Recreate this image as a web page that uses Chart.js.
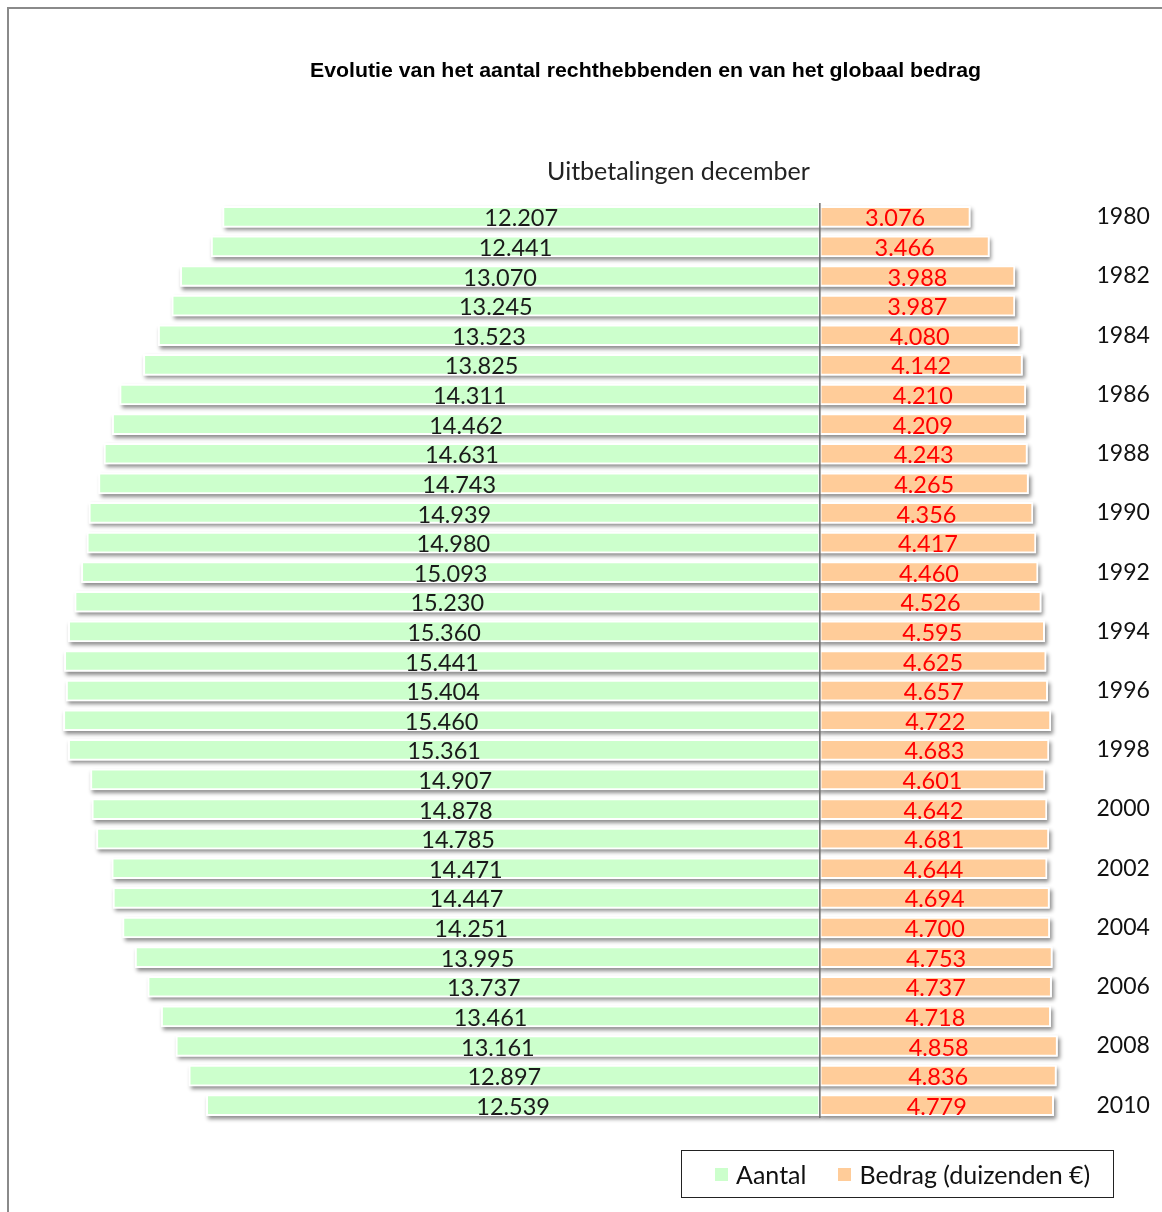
<!DOCTYPE html>
<html lang="nl">
<head>
<meta charset="utf-8">
<title>Evolutie van het aantal rechthebbenden en van het globaal bedrag</title>
<script src="https://cdn.jsdelivr.net/npm/chart.js@4/dist/chart.umd.min.js"></script>
<style>
  html, body { margin: 0; padding: 0; background: #fff; overflow: hidden; }
  body { width: 1162px; height: 1212px; position: relative; }
  #frame { position: absolute; left: 7px; top: 7px; width: 1200px; height: 1230px; border: 2px solid #8a8a8a; box-sizing: border-box; }
  #wrap { position: absolute; left: 0; top: 0; width: 1162px; height: 1212px; }
  #title { position: absolute; top: 59px; left: 310px; white-space: nowrap; font: bold 20px "Liberation Sans", Arial, sans-serif; color: #000; transform-origin: left center; }
  #subtitle { position: absolute; top: 155px; left: 547px; white-space: nowrap; font: 25px Lato, "Open Sans", sans-serif; color: #222; }
  #legend { position: absolute; left: 681px; top: 1150px; width: 433px; height: 48px; border: 1px solid #222; box-sizing: border-box; display: flex; align-items: center; font: 25px Lato, "Open Sans", sans-serif; color: #111; }
  .item { display: flex; align-items: center; }
  .sw { width: 13px; height: 13px; display: inline-block; margin-right: 8px; }
</style>
</head>
<body>
<div id="frame"></div>
<div id="wrap"><canvas id="c" width="1162" height="1212"></canvas></div>
<div id="title">Evolutie van het aantal rechthebbenden en van het globaal bedrag</div>
<div id="subtitle">Uitbetalingen december</div>
<div id="legend"></div>
<script>
// Years of the December payments
const years = ['1980','1981','1982','1983','1984','1985','1986','1987','1988','1989','1990',
  '1991','1992','1993','1994','1995','1996','1997','1998','1999','2000',
  '2001','2002','2003','2004','2005','2006','2007','2008','2009','2010'];

// Number of beneficiaries
const aantal = [12207,12441,13070,13245,13523,13825,14311,14462,14631,14743,14939,
  14980,15093,15230,15360,15441,15404,15460,15361,14907,14878,
  14785,14471,14447,14251,13995,13737,13461,13161,12897,12539];

// Total amount (thousands of euro)
const bedrag = [3076,3466,3988,3987,4080,4142,4210,4209,4243,4265,4356,
  4417,4460,4526,4595,4625,4657,4722,4683,4601,4642,
  4681,4644,4694,4700,4753,4737,4718,4858,4836,4779];

const seriesNames = ['Aantal', 'Bedrag (duizenden €)'];
const seriesColors = ['#ccffcc', '#ffcc99'];
const labelColors = ['#1a1a1a', '#ff0000'];

const LABEL_FONT = 'Lato, "Open Sans", sans-serif';

function fmt(v) {
  return String(Math.abs(v)).replace(/\B(?=(\d{3})+(?!\d))/g, '.');
}

// Soft drop shadow under every bar
const barShadow = {
  id: 'barShadow',
  beforeDatasetsDraw(chart) {
    const ctx = chart.ctx;
    ctx.save();
    ctx.shadowColor = 'rgba(0,0,0,0.45)';
    ctx.shadowBlur = 4;
    ctx.shadowOffsetX = 2;
    ctx.shadowOffsetY = 3;
    ctx.fillStyle = '#ffffff';
    chart.data.datasets.forEach((ds, i) => {
      chart.getDatasetMeta(i).data.forEach(el => {
        const l = Math.min(el.x, el.base), r = Math.max(el.x, el.base);
        ctx.fillRect(l, el.y - el.height / 2, r - l, el.height);
      });
    });
    ctx.restore();
  }
};

// Vertical axis line at zero and value labels inside the bars
const overlay = {
  id: 'overlay',
  afterDatasetsDraw(chart) {
    const ctx = chart.ctx;
    const x0 = chart.scales.x.getPixelForValue(0);
    const area = chart.chartArea;
    ctx.save();
    ctx.strokeStyle = '#6e6e6e';
    ctx.lineWidth = 1.5;
    ctx.beginPath();
    ctx.moveTo(x0, area.top + 1);
    ctx.lineTo(x0, area.bottom - 2);
    ctx.stroke();

    ctx.font = '23.5px ' + LABEL_FONT;
    ctx.textAlign = 'center';
    ctx.textBaseline = 'middle';
    chart.data.datasets.forEach((ds, i) => {
      ctx.fillStyle = labelColors[i];
      chart.getDatasetMeta(i).data.forEach((el, j) => {
        const cx = (el.x + el.base) / 2;
        ctx.fillText(fmt(ds.data[j]), cx, el.y + 2);
      });
    });
    ctx.restore();
  }
};

new Chart(document.getElementById('c'), {
  type: 'bar',
  data: {
    labels: years,
    datasets: [
      { label: seriesNames[0], data: aantal.map(v => -v), backgroundColor: seriesColors[0],
        borderColor: '#ffffff', borderWidth: 2, borderSkipped: false, barThickness: 21 },
      { label: seriesNames[1], data: bedrag, backgroundColor: seriesColors[1],
        borderColor: '#ffffff', borderWidth: 2, borderSkipped: false, barThickness: 21 }
    ]
  },
  options: {
    indexAxis: 'y',
    responsive: false,
    animation: false,
    layout: { padding: { top: 202, bottom: 92, left: 37, right: 0 } },
    plugins: {
      legend: { display: false },
      tooltip: { enabled: false },
      title: { display: false }
    },
    scales: {
      x: {
        stacked: true, display: false, min: -16000, max: 5000
      },
      y: {
        stacked: true,
        position: 'right',
        grid: { display: false, drawTicks: false },
        border: { display: false },
        afterFit(scale) { scale.width = 97.5; },
        ticks: {
          autoSkip: false,
          padding: 32,
          color: '#111',
          font: { family: LABEL_FONT, size: 23 },
          callback(value, index) { return index % 2 === 0 ? years[index] : ''; }
        }
      }
    }
  },
  plugins: [barShadow, overlay]
});

// Legend box
const lg = document.getElementById('legend');
seriesNames.forEach((name, i) => {
  const it = document.createElement('div');
  it.className = 'item';
  it.style.marginLeft = i === 0 ? '33px' : '32px';
  const sw = document.createElement('span');
  sw.className = 'sw';
  sw.style.background = seriesColors[i];
  it.appendChild(sw);
  it.appendChild(document.createTextNode(name));
  lg.appendChild(it);
});

// Stretch the title to its line width
const t = document.getElementById('title');
const w = t.getBoundingClientRect().width;
t.style.transform = 'scaleX(' + (671 / w) + ')';
</script>
</body>
</html>
